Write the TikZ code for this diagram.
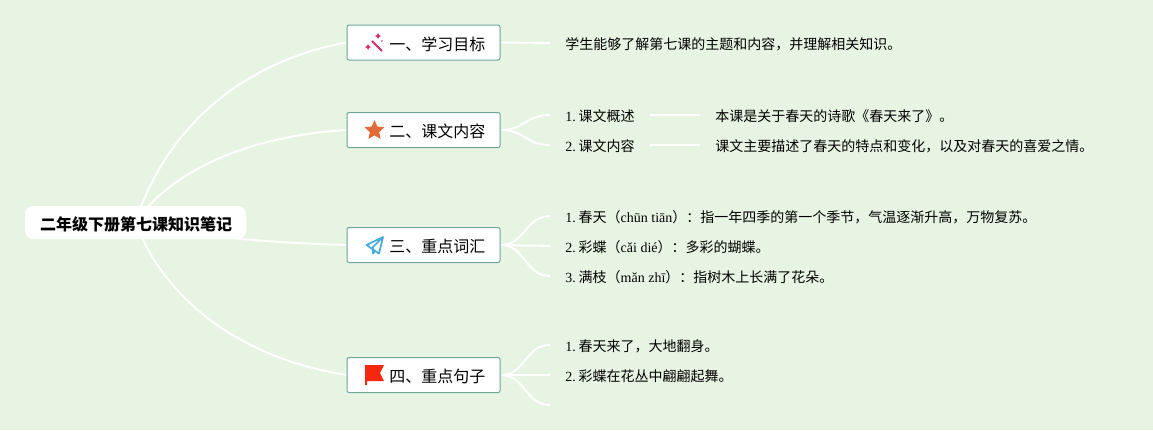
\documentclass[tikz,border=0pt]{standalone}
\usepackage{fontspec}
\setmainfont{Liberation Serif}
\newfontfamily\cjk{Noto Sans CJK SC}
\usetikzlibrary{backgrounds,calc,shapes.geometric}
\definecolor{paper}{RGB}{232,244,227}
\definecolor{edge}{RGB}{110,165,152}
\definecolor{wand}{RGB}{222,40,110}
\definecolor{plane}{RGB}{70,170,225}
\definecolor{flag}{RGB}{245,40,15}
\definecolor{starc}{RGB}{226,106,56}
\newcommand{\itemno}[1]{#1.\hspace{2.2pt}}

\begin{document}
\begin{tikzpicture}[x=0.75pt,y=-0.75pt]
    % `root' is the white pill, `topic' the four boxes.
    % `leaf' is used for the small lines of text.
    \tikzstyle{surround} = [fill=paper,minimum width=864.75pt,minimum height=322.5pt,inner sep=0pt]
    \tikzstyle{root} = [fill=white,rounded corners=6pt,minimum width=165.75pt,minimum height=24.75pt,inner sep=0pt]
    \tikzstyle{topic} = [draw=edge,fill=white,rounded corners=1.5pt,line width=0.75pt,minimum width=114.75pt,minimum height=26.25pt,inner sep=0pt]
    \tikzstyle{title} = [inner sep=0pt,font=\cjk\fontsize{12}{14}\selectfont]
    \tikzstyle{leaf} = [inner sep=0pt,anchor=west,font=\fontsize{10.5}{13}\selectfont]
    \tikzstyle{branch} = [draw=white,line width=1.4pt]
    %
    \node[root] (root) at (135.5,222.5) {};
    \node[title,font=\cjk\bfseries\fontsize{12}{14}\selectfont] (roott) at (136,224) {二年级下册第七课知识笔记};
    \node[topic] (goal) at (423.5,42.5) {};
    \node[topic] (text) at (423.5,130) {};
    \node[topic] (word) at (423.5,245) {};
    \node[topic] (line) at (423.5,375) {};
    \node[title,anchor=west] (goalt) at (389,44.5) {一、学习目标};
    \node[title,anchor=west] (textt) at (389,131.5) {二、课文内容};
    \node[title,anchor=west] (wordt) at (389,246.5) {三、重点词汇};
    \node[title,anchor=west] (linet) at (389,376.5) {四、重点句子};
    %
    \node[star,star points=5,star point ratio=2.1,fill=starc,inner sep=0pt,minimum size=15.5pt] (stars) at (374.5,130.5) {};
    % free ends of the forks
    \coordinate (end1) at (550,43);
    \coordinate (end21) at (550,115);
    \coordinate (end22) at (550,145);
    \coordinate (end31) at (550,216);
    \coordinate (end32) at (550,246);
    \coordinate (end33) at (550,276);
    \coordinate (end41) at (550,345);
    \coordinate (end42) at (550,375);
    \coordinate (end43) at (550,405);
    \coordinate (mid1a) at (650,115);
    \coordinate (mid1b) at (700,115);
    \coordinate (mid2a) at (650,145);
    \coordinate (mid2b) at (700,145);
    %
    \node[leaf] (aim) at (565,44) {{\cjk 学生能够了解第七课的主题和内容，并理解相关知识。}};
    \node[leaf] (t1) at (565,116) {\itemno{1}{\cjk 课文概述}};
    \node[leaf] (t2) at (565,146) {\itemno{2}{\cjk 课文内容}};
    \node[leaf] (d1) at (715,116) {{\cjk 本课是关于春天的诗歌《春天来了》。}};
    \node[leaf] (d2) at (715,146) {{\cjk 课文主要描述了春天的特点和变化，以及对春天的喜爱之情。}};
    \node[leaf] (w1) at (565,217) {\itemno{1}{\cjk 春天（}chūn tiān{\cjk ）：指一年四季的第一个季节，气温逐渐升高，万物复苏。}};
    \node[leaf] (w2) at (565,247) {\itemno{2}{\cjk 彩蝶（}cǎi dié{\cjk ）：多彩的蝴蝶。}};
    \node[leaf] (w3) at (565,277) {\itemno{3}{\cjk 满枝（}mǎn zhī{\cjk ）：指树木上长满了花朵。}};
    \node[leaf] (s1) at (565,346) {\itemno{1}{\cjk 春天来了，大地翻身。}};
    \node[leaf] (s2) at (565,376) {\itemno{2}{\cjk 彩蝶在花丛中翩翩起舞。}};
    %
    % wand
    \draw[line width=1.5pt,color=wand] (372,41) -- (382,51);
    \fill[wand] (378,33) -- (379,35) -- (381,36) -- (379,37) -- (378,39) -- (377,37) -- (375,36) -- (377,35) -- cycle;
    \fill[wand] (368,44) -- (369,46) -- (371,47) -- (369,48) -- (368,50) -- (367,48) -- (365,47) -- (367,46) -- cycle;
    \fill[wand] (382,41) circle (0.8);
    % plane
    \draw[line width=1.3pt,color=plane,line join=round] (366.5,245) -- (383,237) -- (379,253.5) -- cycle (383,237) -- (373,247) -- (373,253.5) -- (376,250.5);
    % flag
    \fill[flag] (365,365) -- (384,365) -- (380,373) -- (384,381) -- (367,381) -- (367,385) -- (365,385) -- cycle;
    %
    \begin{pgfonlayer}{background}
        % Draw background box.
        \node[surround] (background) at (576.5,215) {};
        % Draw lines.
        \draw[branch] (root.center) .. controls (165,130) and (240,62) .. (goal.west);
        \draw[branch] (root.center) .. controls (175,165) and (260,135) .. (text.west);
        \draw[branch] (root.center) .. controls (200,238) and (280,243) .. (word.west);
        \draw[branch] (root.center) .. controls (165,300) and (240,358) .. (line.west);
        \draw[branch] (goal.east) -- (end1);
        \foreach \from/\to in {text/end21,text/end22,word/end31,word/end32,word/end33,line/end41,line/end42,line/end43}
            \draw[branch] (\from.east) .. controls +(25,0) and ($(\to)+(-25,0)$) .. (\to);
        \draw[branch] (mid1a) -- (mid1b) (mid2a) -- (mid2b);
    \end{pgfonlayer}
\end{tikzpicture}
\end{document}
